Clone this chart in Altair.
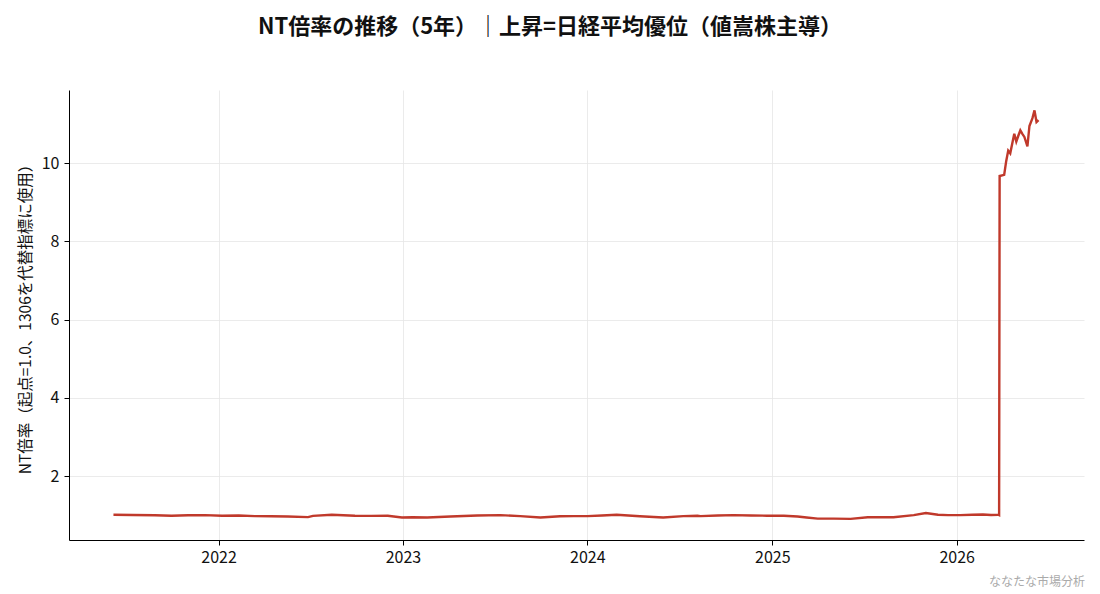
import altair as alt
import pandas as pd

FONT = "Noto Sans CJK JP"
TITLE = "NT倍率の推移（5年）｜上昇=日経平均優位（値嵩株主導）"
Y_TITLE = "NT倍率（起点=1.0、1306を代替指標に使用）"
WATERMARK = "ななたな市場分析"

dates = [
    "2021-06-07", "2021-07-15", "2021-08-28", "2021-09-30", "2021-11-02", "2021-12-05",
    "2022-01-08", "2022-02-10", "2022-03-14", "2022-04-15", "2022-05-18", "2022-06-27",
    "2022-07-07", "2022-08-13", "2022-09-28", "2022-10-30", "2022-12-02", "2022-12-30",
    "2023-01-20", "2023-02-18", "2023-04-05", "2023-05-28", "2023-07-13", "2023-08-21",
    "2023-09-30", "2023-11-08", "2023-12-05", "2024-01-01", "2024-01-30", "2024-02-28",
    "2024-04-14", "2024-05-30", "2024-07-09", "2024-08-06", "2024-08-12", "2024-09-15",
    "2024-10-16", "2024-11-20", "2024-12-22", "2025-01-24", "2025-02-20", "2025-03-10",
    "2025-04-01", "2025-05-03", "2025-06-05", "2025-07-09", "2025-08-01", "2025-08-29",
    "2025-10-08", "2025-11-01", "2025-11-25", "2025-12-15", "2026-01-08", "2026-02-01",
    "2026-02-22", "2026-03-10", "2026-03-24", "2026-03-26",
    "2026-03-27", "2026-04-05", "2026-04-09", "2026-04-13", "2026-04-17", "2026-04-21",
    "2026-04-25", "2026-04-29", "2026-05-03", "2026-05-07", "2026-05-11", "2026-05-15",
    "2026-05-21", "2026-05-25", "2026-05-31", "2026-06-04", "2026-06-08", "2026-06-12",
]
values = [
    1.01, 1.005, 0.995, 0.985, 0.995, 1.00,
    0.985, 0.99, 0.975, 0.97, 0.965, 0.95,
    0.98, 1.01, 0.985, 0.98, 0.985, 0.94,
    0.945, 0.94, 0.965, 0.99, 1.00, 0.975,
    0.94, 0.97, 0.975, 0.975, 0.99, 1.01,
    0.97, 0.94, 0.975, 0.985, 0.975, 0.99,
    1.00, 0.99, 0.985, 0.985, 0.965, 0.94,
    0.91, 0.91, 0.905, 0.945, 0.95, 0.945,
    1.00, 1.055, 1.01, 1.00, 1.00, 1.01,
    1.015, 1.005, 1.01, 1.00,
    9.67, 9.70, 10.05, 10.32, 10.25, 10.50,
    10.75, 10.55, 10.70, 10.84, 10.75, 10.67,
    10.43, 10.95, 11.15, 11.35, 11.05, 11.10,
]

df = pd.DataFrame({"date": dates, "nt": values})

year_ticks = [alt.DateTime(year=y, month=1, date=1) for y in range(2022, 2027)]

line = alt.Chart(df).mark_line(color="#c0392b", strokeWidth=2.4).encode(
    x=alt.X(
        "date:T",
        scale=alt.Scale(
            domain=[alt.DateTime(year=2021, month=3, date=11),
                    alt.DateTime(year=2026, month=9, date=10)],
            nice=False,
        ),
        axis=alt.Axis(
            values=year_ticks, format="%Y", title=None,
            labelFontSize=16, labelPadding=4, tickSize=5,
        ),
    ),
    y=alt.Y(
        "nt:Q",
        scale=alt.Scale(domain=[0.364, 11.87], nice=False, zero=False),
        axis=alt.Axis(
            values=[2, 4, 6, 8, 10], title=Y_TITLE,
            labelFontSize=16, labelPadding=5, tickSize=5,
            titleFontSize=15.5, titleFontWeight="normal", titlePadding=8,
        ),
    ),
)

title_text = alt.Chart(pd.DataFrame({"t": [TITLE]})).mark_text(
    fontSize=22, fontWeight="bold", font=FONT, color="#111111",
    align="center", baseline="middle",
).encode(text="t:N", x=alt.value(481), y=alt.value(-63))

wm_text = alt.Chart(pd.DataFrame({"t": [WATERMARK]})).mark_text(
    fontSize=12, font=FONT, color="#aaaaaa", align="right", baseline="middle",
).encode(text="t:N", x=alt.value(1016), y=alt.value(492))

chart = alt.layer(line, title_text, wm_text).properties(
    width=1015, height=450,
    padding={"left": 61, "top": 82, "right": 8, "bottom": 52},
    autosize=alt.AutoSizeParams(type="none"),
    background="white",
).configure_view(stroke=None).configure_axis(
    labelFont=FONT, titleFont=FONT, labelColor="#111111", titleColor="#111111",
    domainColor="#000000", domainWidth=1, tickColor="#000000", tickWidth=1,
    gridColor="#e6e6e6", gridWidth=0.8,
)

chart.save("out.html", embed_options={"renderer": "svg", "actions": False})
